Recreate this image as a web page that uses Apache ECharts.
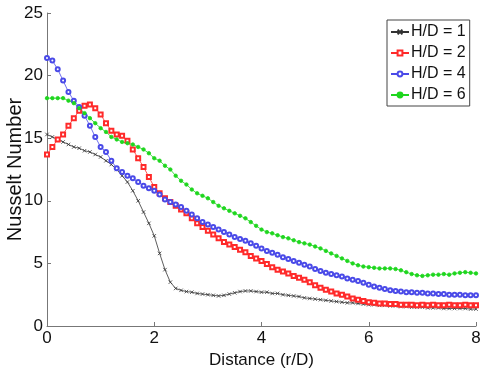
<!DOCTYPE html>
<html>
<head>
<meta charset="utf-8">
<script src="https://cdn.jsdelivr.net/npm/echarts@6/dist/echarts.min.js"></script>
<style>
html,body{margin:0;padding:0;background:#fff;}
#chart{width:481px;height:373px;}
</style>
</head>
<body>
<div id="chart"></div>
<script>
var distance = [0.0,0.1,0.2,0.3,0.4,0.5,0.6,0.7,0.8,0.9,
1.0,1.1,1.2,1.3,1.4,1.5,1.6,1.7,1.8,1.9,
2.0,2.1,2.2,2.3,2.4,2.5,2.6,2.7,2.8,2.9,
3.0,3.1,3.2,3.3,3.4,3.5,3.6,3.7,3.8,3.9,
4.0,4.1,4.2,4.3,4.4,4.5,4.6,4.7,4.8,4.9,
5.0,5.1,5.2,5.3,5.4,5.5,5.6,5.7,5.8,5.9,
6.0,6.1,6.2,6.3,6.4,6.5,6.6,6.7,6.8,6.9,
7.0,7.1,7.2,7.3,7.4,7.5,7.6,7.7,7.8,7.9,
8.0];

var hd1 = [15.3,15.1,14.9,14.7,14.5,14.3,14.2,14.0,13.9,13.7,
13.5,13.2,12.9,12.5,12.0,11.5,10.8,10.0,9.1,8.2,
7.2,5.8,4.5,3.5,3.0,2.85,2.75,2.7,2.6,2.55,
2.5,2.45,2.4,2.45,2.55,2.65,2.75,2.8,2.8,2.75,
2.7,2.7,2.6,2.6,2.5,2.45,2.4,2.35,2.25,2.2,
2.15,2.1,2.05,2.0,1.95,1.9,1.85,1.85,1.8,1.75,
1.7,1.7,1.65,1.65,1.6,1.6,1.55,1.55,1.5,1.5,
1.5,1.45,1.45,1.45,1.4,1.4,1.4,1.4,1.4,1.35,
1.35];

var hd2 = [13.7,14.3,14.9,15.3,16.0,16.6,17.2,17.6,17.7,17.4,
16.9,16.2,15.6,15.3,15.2,14.8,14.1,13.4,12.7,11.9,
11.1,10.6,10.2,9.9,9.6,9.3,9.0,8.6,8.2,7.9,
7.6,7.3,7.0,6.7,6.5,6.3,6.1,5.9,5.6,5.4,
5.2,4.95,4.7,4.5,4.35,4.2,4.0,3.85,3.7,3.5,
3.25,3.05,2.9,2.75,2.6,2.5,2.35,2.2,2.1,2.0,
1.9,1.85,1.8,1.8,1.75,1.75,1.7,1.7,1.7,1.65,
1.7,1.65,1.7,1.65,1.65,1.7,1.65,1.65,1.7,1.65,
1.65];

var hd4 = [21.4,21.2,20.5,19.6,18.7,18.0,17.5,16.8,16.0,15.1,
14.3,13.9,13.2,12.6,12.3,12.0,11.8,11.5,11.2,11.0,
10.8,10.5,10.1,9.9,9.7,9.5,9.2,8.9,8.6,8.3,
8.1,7.9,7.7,7.5,7.3,7.1,6.95,6.8,6.6,6.4,
6.2,6.0,5.85,5.7,5.5,5.35,5.2,5.05,4.9,4.75,
4.55,4.4,4.25,4.15,4.05,3.95,3.8,3.7,3.6,3.45,
3.3,3.15,3.05,2.95,2.85,2.8,2.75,2.7,2.7,2.65,
2.65,2.6,2.6,2.55,2.55,2.5,2.5,2.5,2.45,2.45,
2.45];

var hd6 = [18.2,18.2,18.2,18.2,18.0,17.8,17.4,17.0,16.6,16.2,
15.8,15.5,15.1,14.9,14.7,14.6,14.5,14.3,14.1,13.8,
13.4,13.2,12.8,12.5,12.0,11.6,11.3,10.9,10.6,10.4,
10.2,9.9,9.6,9.4,9.2,9.0,8.8,8.6,8.3,8.0,
7.7,7.5,7.4,7.25,7.1,7.0,6.85,6.7,6.6,6.5,
6.35,6.2,6.0,5.8,5.6,5.4,5.2,5.0,4.85,4.75,
4.7,4.65,4.6,4.6,4.6,4.55,4.45,4.3,4.15,4.05,
4.0,4.05,4.1,4.1,4.15,4.1,4.2,4.25,4.3,4.25,
4.2];

var seriesNames = ['H/D = 1','H/D = 2','H/D = 4','H/D = 6'];
var xTicks = [0,2,4,6,8];
var yTicks = [0,5,10,15,20,25];

function pairs(ys){ return ys.map(function(v,i){ return [distance[i], v]; }); }

var FONT = '"Liberation Sans", Arial, sans-serif';
var chart = echarts.init(document.getElementById('chart'), null, {renderer:'canvas'});

function mkSeries(name, ys, color, symbol, size){
  return {
    name: name, type: 'line', data: pairs(ys),
    symbol: symbol, symbolSize: size, showSymbol: true,
    lineStyle: {color: color, width: 0.8},
    itemStyle: {color: color, borderColor: color, borderWidth: 0.8},
    emphasis: {disabled: true},
    animation: false
  };
}

chart.setOption({
  animation: false,
  backgroundColor: '#ffffff',
  grid: {left: 47, right: 5, top: 13, bottom: 47, containLabel: false, outerBoundsMode: 'none'},
  legend: {
    orient: 'vertical', left: 387, top: 20,
    padding: [4, 4, 3, 3],
    itemGap: 5, itemWidth: 18, itemHeight: 6,
    borderColor: '#444', borderWidth: 1,
    backgroundColor: '#fff',
    textStyle: {fontSize: 16, color: '#111', fontFamily: FONT, padding: [0,0,0,-3]},
    data: seriesNames
  },
  xAxis: {
    type: 'value', min: xTicks[0], max: xTicks[xTicks.length-1], interval: 2,
    name: 'Distance (r/D)', nameLocation: 'middle', nameGap: 24,
    nameTextStyle: {fontSize: 17, color: '#111', fontFamily: FONT},
    axisLine: {show: true, lineStyle: {color: '#777', width: 1}},
    axisTick: {show: true, inside: true, length: 4, lineStyle: {color: '#777'}},
    axisLabel: {fontSize: 17, color: '#111', fontFamily: FONT, margin: 4},
    splitLine: {show: false}
  },
  yAxis: {
    type: 'value', min: yTicks[0], max: yTicks[yTicks.length-1], interval: 5,
    name: 'Nusselt Number', nameLocation: 'middle', nameGap: 22, nameMoveOverlap: false,
    nameTextStyle: {fontSize: 20, color: '#111', fontFamily: FONT},
    axisLine: {show: true, lineStyle: {color: '#777', width: 1}},
    axisTick: {show: true, inside: true, length: 4, lineStyle: {color: '#777'}},
    axisLabel: {fontSize: 17, color: '#111', fontFamily: FONT, margin: 4},
    splitLine: {show: false}
  },
  series: [
    mkSeries(seriesNames[0], hd1, '#333333', 'path://M0,0L10,10M10,0L0,10', 3.5),
    mkSeries(seriesNames[1], hd2, '#ff2a2a', 'emptyRect', 4),
    mkSeries(seriesNames[2], hd4, '#4a4ae8', 'emptyCircle', 4),
    mkSeries(seriesNames[3], hd6, '#1ed61e', 'circle', 3.5)
  ]
});
</script>
</body>
</html>
